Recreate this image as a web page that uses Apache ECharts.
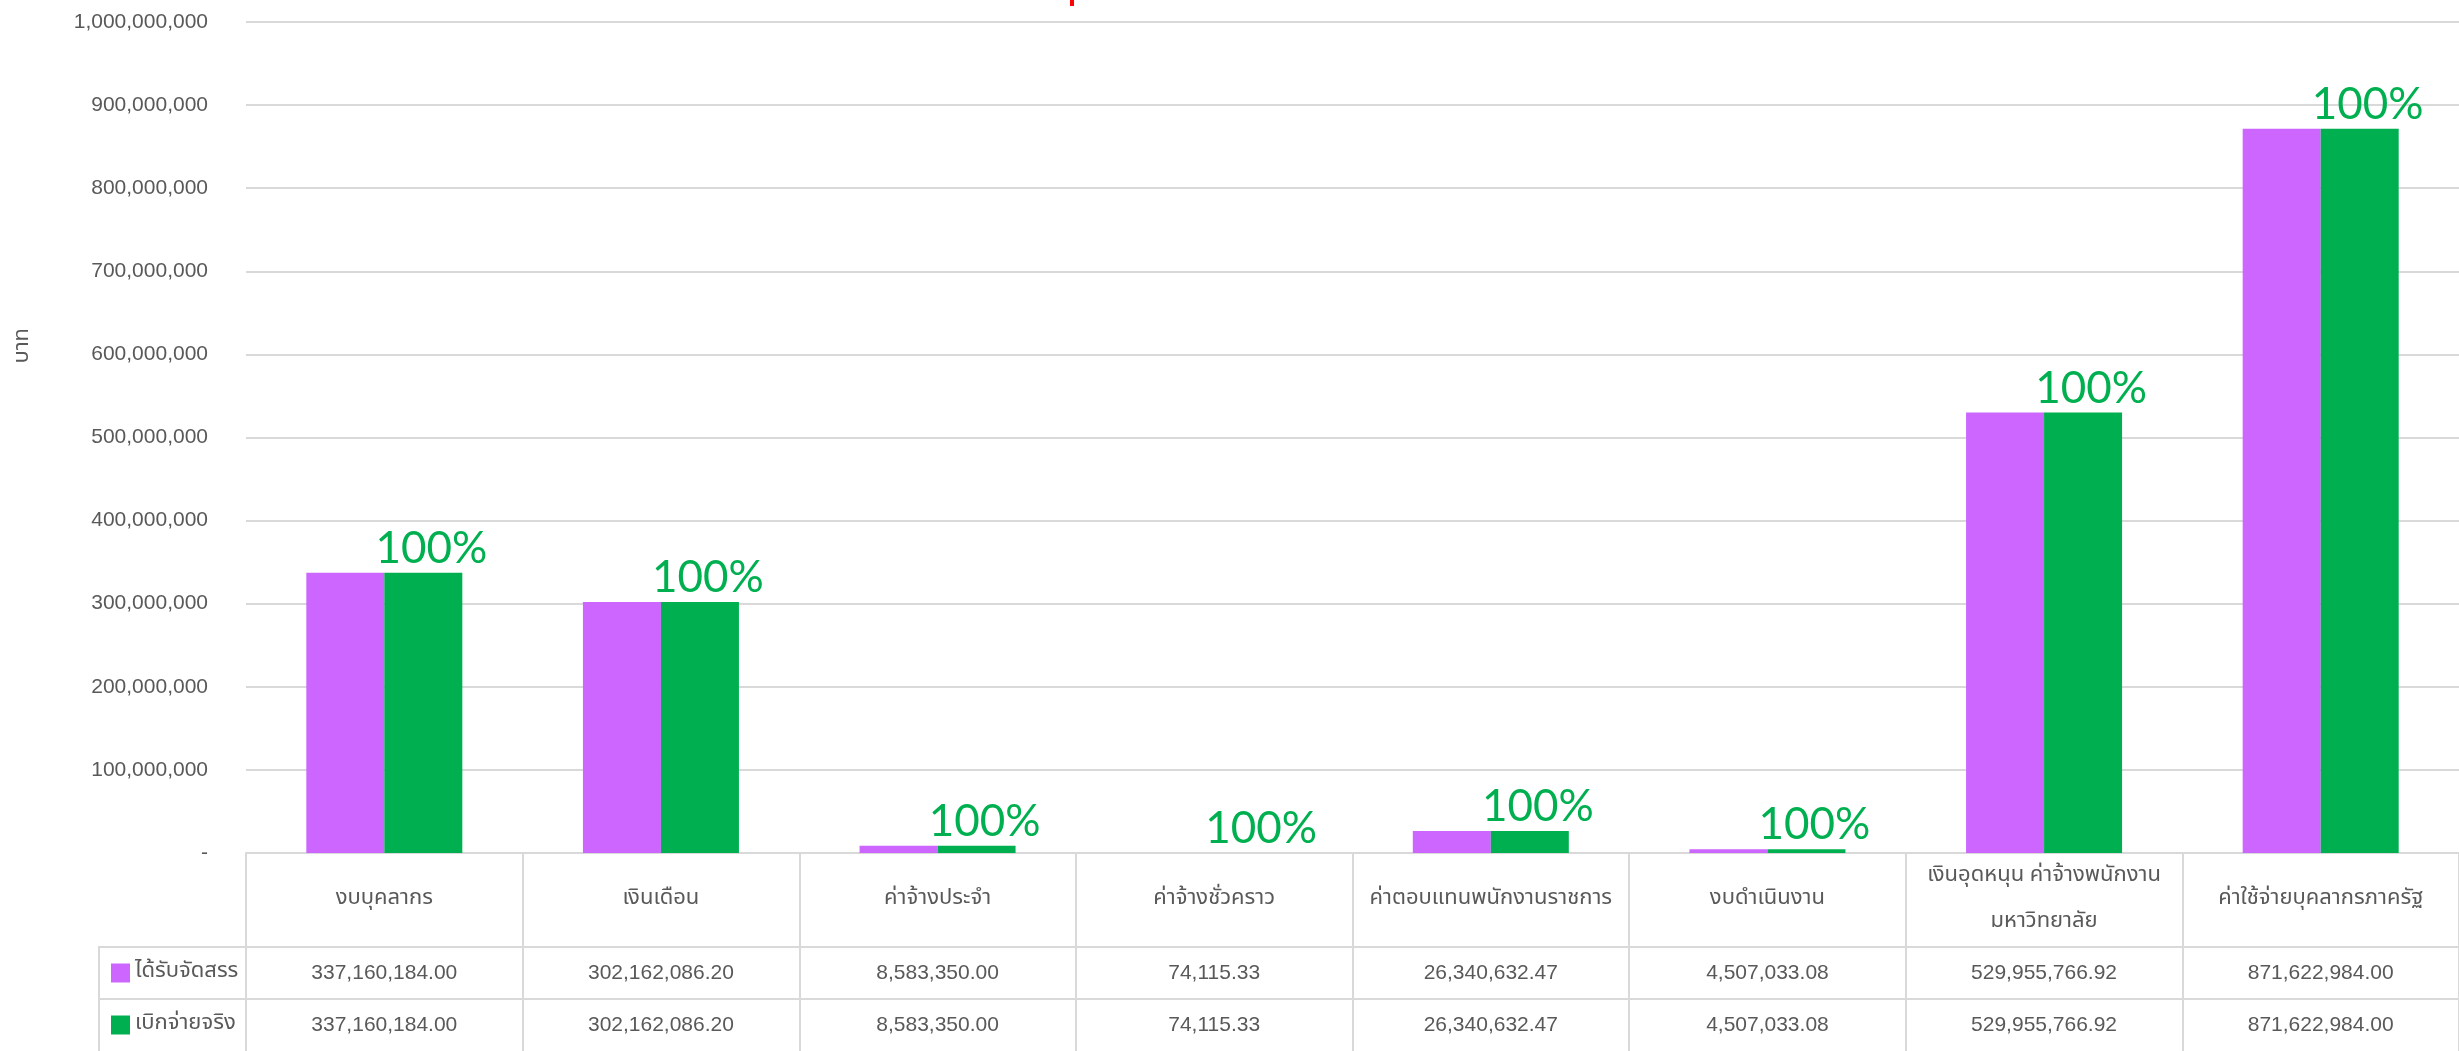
<!DOCTYPE html>
<html>
<head>
	<meta charset="utf-8">
	<title>Budget</title>
	<script src="https://cdn.jsdelivr.net/npm/echarts@6/dist/echarts.min.js"></script>
	<style type="text/css">
		html, body { margin: 0; padding: 0; background: #fff; }
		#main { width: 2459px; height: 1051px; }
	</style>
</head>
<body>
	<div id="main"></div>
	<script type="text/javascript">
		var categories = ['งบบุคลากร', 'เงินเดือน', 'ค่าจ้างประจำ', 'ค่าจ้างชั่วคราว', 'ค่าตอบแทนพนักงานราชการ', 'งบดำเนินงาน', 'เงินอุดหนุน ค่าจ้างพนักงาน\nมหาวิทยาลัย', 'ค่าใช้จ่ายบุคลากรภาครัฐ'];
		var allocated = [337160184.00, 302162086.20, 8583350.00, 74115.33, 26340632.47, 4507033.08, 529955766.92, 871622984.00];
		var disbursed = [337160184.00, 302162086.20, 8583350.00, 74115.33, 26340632.47, 4507033.08, 529955766.92, 871622984.00];
		var seriesNames = ['ได้รับจัดสรร', 'เบิกจ่ายจริง'];
		var yMin = 0, yMax = 1000000000, yStep = 100000000;
		var yName = 'บาท';

		var textGray = '#595959';
		var lineGray = '#d9d9d9';
		var thaiFont = "'Noto Sans Thai', 'Noto Sans Thai Looped', Tahoma, 'Noto Sans', sans-serif";
		var numFont = "'Liberation Sans', Arial, sans-serif";

		var money = function(v){
			return v.toLocaleString('en-US', {minimumFractionDigits: 2, maximumFractionDigits: 2});
		};

		var myChart = echarts.init(document.getElementById('main'));
		var option = {
			animation: false,
			textStyle: { fontFamily: thaiFont },
			grid: { left: 246, right: 0, top: 22, bottom: 198 },
			legend: {
				orient: 'vertical',
				left: 106,
				top: 956,
				itemWidth: 19,
				itemHeight: 19,
				itemGap: 28,
				icon: 'rect',
				selectedMode: false,
				data: seriesNames,
				textStyle: { color: textGray, fontSize: 22, lineHeight: 24, fontFamily: thaiFont }
			},
			xAxis: [{
				type: 'category',
				data: categories,
				position: 'bottom',
				axisLine: { lineStyle: { color: lineGray, width: 2 } },
				axisTick: { show: true, length: 198, interval: 0, lineStyle: { color: lineGray, width: 2 } },
				axisLabel: {
					interval: 0, margin: 47, verticalAlign: 'middle',
					color: textGray, fontSize: 22, lineHeight: 46, fontFamily: thaiFont
				}
			}, {
				type: 'category',
				data: categories,
				position: 'bottom',
				offset: 94,
				axisLine: { lineStyle: { color: lineGray, width: 2 } },
				axisTick: { show: false },
				axisLabel: {
					interval: 0, margin: 26, verticalAlign: 'middle',
					color: textGray, fontSize: 21, fontFamily: numFont,
					formatter: function(v, i){ return money(allocated[i]); }
				}
			}, {
				type: 'category',
				data: categories,
				position: 'bottom',
				offset: 146,
				axisLine: { lineStyle: { color: lineGray, width: 2 } },
				axisTick: { show: false },
				axisLabel: {
					interval: 0, margin: 26, verticalAlign: 'middle',
					color: textGray, fontSize: 21, fontFamily: numFont,
					formatter: function(v, i){ return money(disbursed[i]); }
				}
			}],
			yAxis: {
				type: 'value',
				min: yMin,
				max: yMax,
				interval: yStep,
				axisLine: { show: false },
				axisTick: { show: false },
				splitLine: { lineStyle: { color: lineGray, width: 2 } },
				axisLabel: {
					margin: 38, color: textGray, fontSize: 21, fontFamily: numFont,
					formatter: function(v){ return v === 0 ? '-' : v.toLocaleString('en-US'); }
				}
			},
			graphic: [
				// row-header borders of the data table, left of the plot
				{ type: 'line', shape: { x1: 99, y1: 947, x2: 246, y2: 947 }, style: { stroke: lineGray, lineWidth: 2 } },
				{ type: 'line', shape: { x1: 99, y1: 999, x2: 246, y2: 999 }, style: { stroke: lineGray, lineWidth: 2 } },
				{ type: 'line', shape: { x1: 99, y1: 946, x2: 99, y2: 1051 }, style: { stroke: lineGray, lineWidth: 2 } },
				// axis title
				{ type: 'text', left: 13, top: 328, rotation: Math.PI / 2,
				  style: { text: yName, fill: textGray, fontSize: 22, fontFamily: thaiFont } },
				// bottom tip of the cut-off title
				{ type: 'rect', shape: { x: 1070, y: 0, width: 4, height: 6 }, style: { fill: '#ff0000' } }
			],
			series: [{
				name: seriesNames[0],
				type: 'bar',
				barWidth: 78,
				barGap: '0%',
				itemStyle: { color: '#cc66ff' },
				data: allocated
			}, {
				name: seriesNames[1],
				type: 'bar',
				barWidth: 78,
				barGap: '0%',
				itemStyle: { color: '#00b050' },
				label: {
					show: true,
					position: 'top',
					distance: 2,
					offset: [8, 0],
					color: '#00b050',
					fontSize: 44,
					fontFamily: 'Lato',
					formatter: function(p){
						return Math.round(disbursed[p.dataIndex] / allocated[p.dataIndex] * 100) + '%';
					}
				},
				data: disbursed
			}]
		};
		myChart.setOption(option);
	</script>
</body>
</html>
